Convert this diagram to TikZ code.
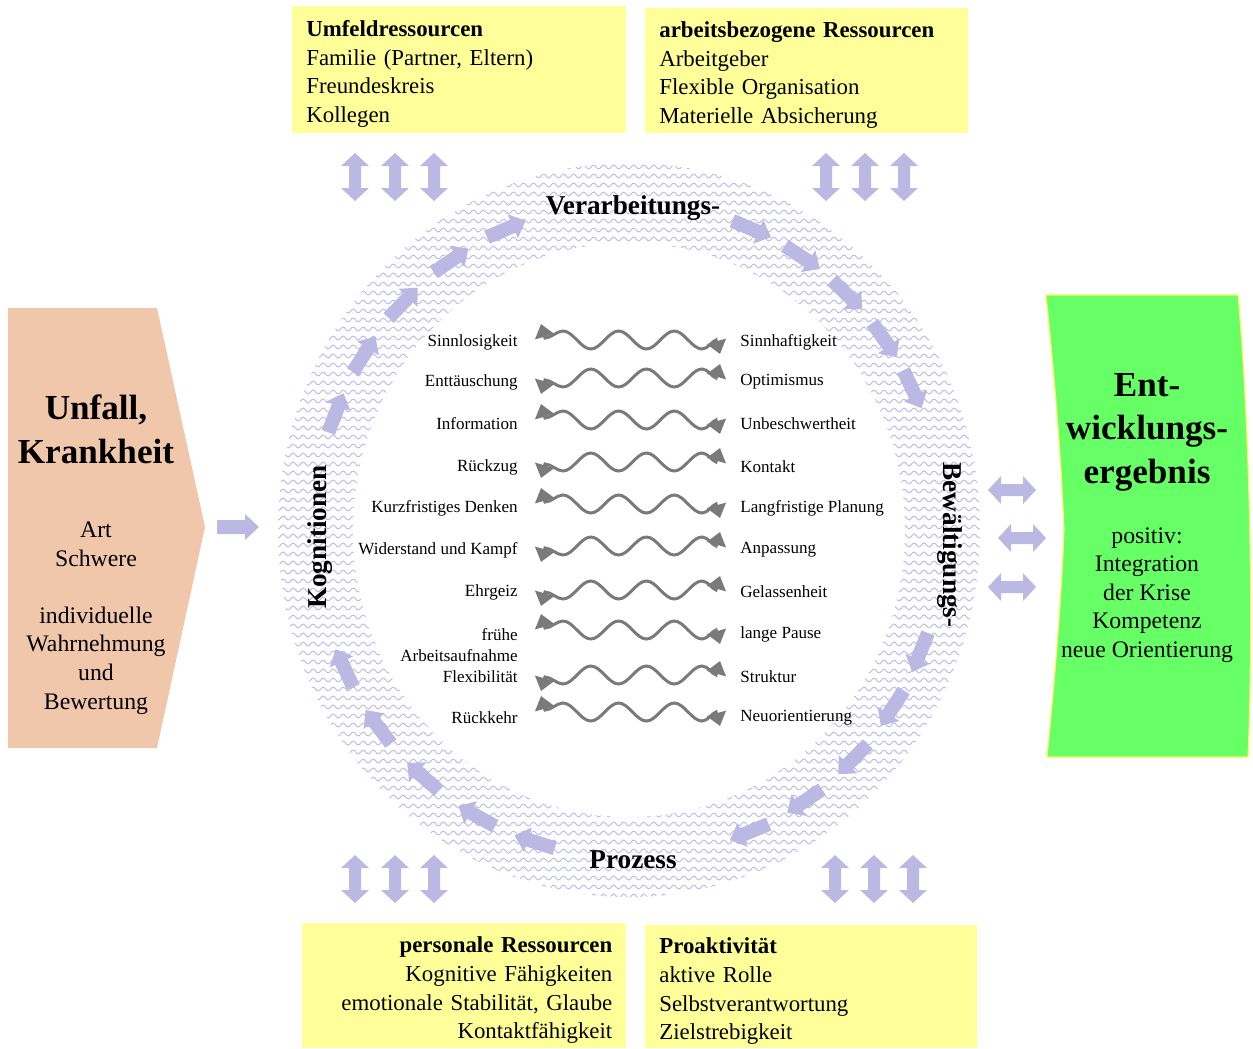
\documentclass[tikz,border=0pt]{standalone}
\usepackage{fontspec}
\setmainfont{Liberation Serif}
\usetikzlibrary{arrows.meta,positioning,calc,decorations.pathmorphing}

\definecolor{lav}{RGB}{187,185,227}
\definecolor{lavline}{RGB}{190,188,232}
\definecolor{resyellow}{RGB}{255,255,153}
\definecolor{peach}{RGB}{241,199,172}
\definecolor{brightgreen}{RGB}{102,255,102}
\definecolor{wavegray}{RGB}{122,122,122}

\tikzset{
  resbox/.style={fill=resyellow, anchor=north west, inner xsep=0.28cm, inner ysep=0pt,
    font=\fontsize{13}{16.3}\selectfont, execute at begin node=\rule{0pt}{14pt}},
  ringtitle/.style={font=\fontsize{15.5}{18}\selectfont\bfseries},
  pole/.style={font=\fontsize{9.7}{11.6}\selectfont, inner sep=0pt},
  bodytext/.style={font=\fontsize{13.5}{16.3}\selectfont, align=center},
  headline/.style={font=\fontsize{20}{25}\selectfont\bfseries, align=center},
  wavearrow/.style={draw=wavegray, line width=1.7pt, arrows={Triangle[width=11pt,length=7.5pt]-Triangle[width=11pt,length=7.5pt]}},
  wavyband/.style={draw=lavline, line width=0.55pt, decorate, decoration={snake, segment length=5.7pt, amplitude=1.1pt}},
  pics/ringarrow/.style={code={\fill[lav] (-21,-7) -- (7,-7) -- (7,-13) -- (21,0) -- (7,13) -- (7,7) -- (-21,7) -- cycle;}},
  pics/dblarrow/.style={code={\fill[lav] (-24,0) -- (-11,-14) -- (-11,-6) -- (11,-6) -- (11,-14) -- (24,0) -- (11,14) -- (11,6) -- (-11,6) -- (-11,14) -- cycle;}},
  pics/wavyarr/.style={code={\draw[wavearrow] (-22,-16) -- (-18,-2) .. controls (-12,-2) and (-6,-9) .. (0,-9)
    .. controls (10,-9) and (17.8,9) .. (27.8,9)
    .. controls (37.8,9) and (45.6,-9) .. (55.6,-9)
    .. controls (65.6,-9) and (73.4,9) .. (83.4,9)
    .. controls (93.4,9) and (101.2,-9) .. (111.2,-9)
    .. controls (121.2,-9) and (129,9) .. (139,9)
    .. controls (145,9) and (149,1) .. (153,0) -- (157,14);}},
}

\begin{document}
\begin{tikzpicture}[x=0.02cm, y=-0.02cm]
\useasboundingbox (0,0) rectangle (1253,1048);
\coordinate (ring) at (629,530);

% ring of the process
\begin{scope}
  \clip (ring) ellipse (351 and 367);
  \foreach \k in {0,...,82}
    \draw[wavyband] (270,{158+9*\k}) -- (990,{158+9*\k});
\end{scope}
\fill[white] (ring) ellipse (276 and 287);

\foreach \a in {159,147.5,136,124.5,113,67,56.5,46,35.5,25.5,-22,-33,-44.5,-56,-67.5,-107.5,-119,-131,-143,-155}
  \pic[rotate=\a-90] at ($(ring)+(-\a:314 and 327)$) {ringarrow};

\node[ringtitle] (verarb) at (633,208) {Verarbeitungs-};
\node[ringtitle] (prozess) at (633,860) {Prozess};
\node[ringtitle, rotate=90] (kogn) at (320,537) {Kognitionen};
\node[ringtitle, rotate=-90] (bewaelt) at (950,545) {Bewältigungs-};

% poles of the cognitions
\foreach \lly/\rly/\wy/\sg/\ltxt/\rtxt [count=\i] in {
  342/342/340/1/Sinnlosigkeit/Sinnhaftigkeit,
  382/382/378/-1/Enttäuschung/Optimismus,
  424/424/420/1/Information/Unbeschwertheit,
  467/467/462/-1/Rückzug/Kontakt,
  508/508/504/1/Kurzfristiges Denken/Langfristige Planung,
  550/550/546/-1/Widerstand und Kampf/Anpassung,
  592/592/590/-1/Ehrgeiz/Gelassenheit,
  645/634/630/1/{frühe\\Arbeitsaufnahme}/lange Pause,
  677/677/675/-1/Flexibilität/Struktur,
  718/718/712/1/Rückkehr/Neuorientierung}
{
  \node[pole, anchor=east, align=right] (neg\i) at (518,\lly) {\ltxt};
  \node[pole, anchor=west, align=left] (pos\i) at (740,\rly) {\rtxt};
  \pic[yscale=\sg] at (563,\wy) {wavyarr};
}

% resources
\node[resbox, text width=6.12cm, minimum height=2.54cm, align=left] (umfeld) at (292,6)
  {\textbf{Umfeldressourcen}\\Familie (Partner, Eltern)\\Freundeskreis\\Kollegen};
\node[resbox, text width=5.9cm, minimum height=2.5cm, align=left] (arbeit) at (645,8)
  {\textbf{arbeitsbezogene Ressourcen}\\Arbeitgeber\\Flexible Organisation\\Materielle Absicherung};
\node[resbox, text width=5.92cm, minimum height=2.5cm, align=right] (personal) at (302,923)
  {\textbf{personale Ressourcen}\\Kognitive Fähigkeiten\\emotionale Stabilität, Glaube\\Kontaktfähigkeit};
\node[resbox, text width=6.08cm, minimum height=2.46cm, align=left] (proaktiv) at (645,925)
  {\textbf{Proaktivität}\\aktive Rolle\\Selbstverantwortung\\Zielstrebigkeit};

\foreach \x in {355,395,434} {
  \pic[rotate=90] at (\x,177) {dblarrow};
  \pic[rotate=90] at (\x,879) {dblarrow};
}
\foreach \x in {826,865,904} \pic[rotate=90] at (\x,177) {dblarrow};
\foreach \x in {835,874,913} \pic[rotate=90] at (\x,879) {dblarrow};
\foreach \x/\y in {1012/490,1022/538,1012/587} \pic at (\x,\y) {dblarrow};

% event
\fill[peach] (8,308) -- (157,308) -- (205,527) -- (157,748) -- (8,748) -- cycle;
\node[headline] (unfall) at (96,429) {Unfall,\\Krankheit};
\node[bodytext] (art) at (96,618) {Art\\Schwere\\~\\individuelle\\Wahrnehmung\\und\\Bewertung};
\pic at (238,527) {ringarrow};

% result
\filldraw[fill=brightgreen, draw=yellow!70, line width=0.6pt] (1046,295) -- (1238,295)
  .. controls (1249,420) and (1254,600) .. (1248,757) -- (1047,757)
  .. controls (1055,680) and (1062,590) .. (1064,530)
  .. controls (1062,470) and (1055,380) .. cycle;
\node[headline, font=\fontsize{20}{24.7}\selectfont\bfseries] (ent) at (1147,432) {Ent-\\wicklungs-\\ergebnis};
\node[bodytext] (positiv) at (1147,595) {positiv:\\Integration\\der Krise\\Kompetenz\\neue Orientierung};
\end{tikzpicture}
\end{document}
